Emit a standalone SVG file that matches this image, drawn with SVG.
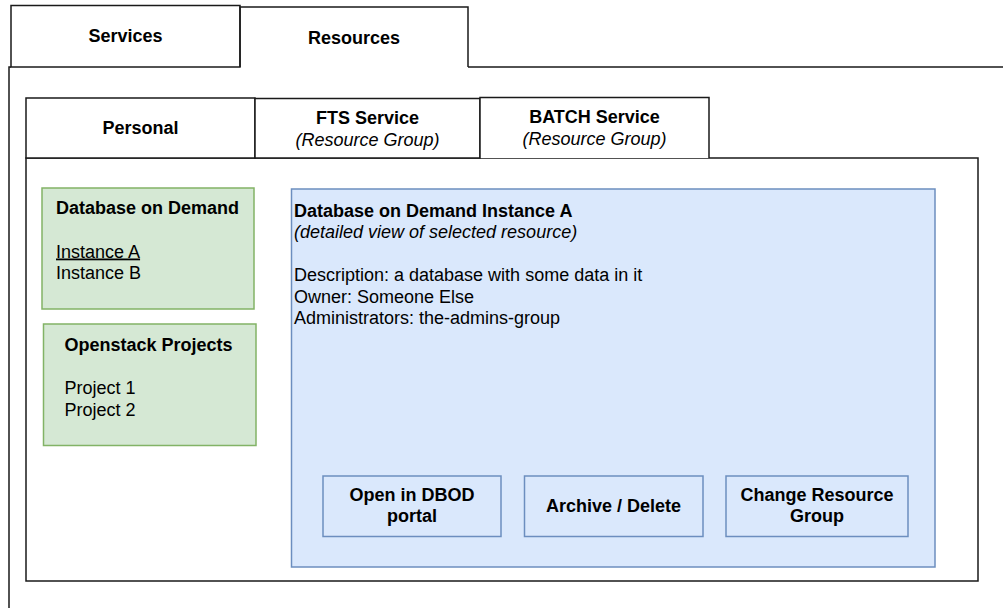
<svg xmlns="http://www.w3.org/2000/svg" width="1003" height="608" viewBox="0 0 1003 608">
  <style>
    text { font-family: "Liberation Sans", Arial, sans-serif; font-size: 18px; fill: #000; }
    .b { font-weight: bold; }
    .i { font-style: italic; }
    .c { text-anchor: middle; }
    .frame { fill: #fff; stroke: #1a1a1a; stroke-width: 1.5; }
    .edge { fill: none; stroke: #1a1a1a; stroke-width: 1.5; }
    .green { fill: #d5e8d4; stroke: #82b366; stroke-width: 1.5; }
    .blue { fill: #dae8fc; stroke: #6c8ebf; stroke-width: 1.5; }
  </style>

  <rect width="1003" height="608" fill="#fff"/>

  <!-- top level tab bar -->
  <g id="outer-container">
    <path class="edge" d="M9,608 V67 H11 M468,67 H1003"/>
  </g>
  <g id="tab-services">
    <rect class="frame" x="11" y="5.5" width="229" height="61.5"/>
    <text class="b c" x="125.5" y="42">Services</text>
  </g>
  <g id="tab-resources">
    <path class="edge" d="M240,67 V7 H468 V67"/>
    <text class="b c" x="354" y="43.5">Resources</text>
  </g>

  <!-- resource group tab bar -->
  <g id="inner-container">
    <path class="frame" d="M709,158 H978 V581 H26 V158 Z"/>
  </g>
  <g id="tab-personal">
    <rect class="frame" x="26" y="98" width="229" height="60"/>
    <text class="b c" x="140.5" y="134">Personal</text>
  </g>
  <g id="tab-fts">
    <rect class="frame" x="255" y="98.5" width="225" height="59.5"/>
    <text class="b c" x="367.5" y="124">FTS Service</text>
    <text class="i c" x="367.5" y="146">(Resource Group)</text>
  </g>
  <g id="tab-batch">
    <path d="M480,158 V97.5 H709 V158 Z" fill="#fff"/>
    <path class="edge" d="M480,158 V97.5 H709 V158"/>
    <text class="b c" x="594.5" y="123">BATCH Service</text>
    <text class="i c" x="594.5" y="145">(Resource Group)</text>
  </g>

  <!-- resource lists -->
  <g id="dbod-list">
    <rect class="green" x="42" y="188" width="212" height="121"/>
    <text class="b" x="56" y="214">Database on Demand</text>
    <text x="56" y="257.5" text-decoration="underline">Instance A</text>
    <text x="56" y="279">Instance B</text>
  </g>
  <g id="openstack-list">
    <rect class="green" x="43.5" y="324" width="212.5" height="121.5"/>
    <text class="b" x="64.5" y="350.5">Openstack Projects</text>
    <text x="64.5" y="394">Project 1</text>
    <text x="64.5" y="415.5">Project 2</text>
  </g>

  <!-- detail panel -->
  <g id="detail-panel">
    <rect class="blue" x="291.5" y="189" width="643.5" height="378"/>
    <text class="b" x="294" y="216.5">Database on Demand Instance A</text>
    <text class="i" x="294" y="238">(detailed view of selected resource)</text>
    <text x="294" y="281">Description: a database with some data in it</text>
    <text x="294" y="302.5">Owner: Someone Else</text>
    <text x="294" y="324">Administrators: the-admins-group</text>
  </g>
  <g id="btn-open-dbod">
    <rect class="blue" x="323" y="476" width="178" height="60.5"/>
    <text class="b c" x="412" y="500.5">Open in DBOD</text>
    <text class="b c" x="412" y="522">portal</text>
  </g>
  <g id="btn-archive">
    <rect class="blue" x="524.5" y="476" width="178.5" height="60.5"/>
    <text class="b c" x="613.5" y="511.5">Archive / Delete</text>
  </g>
  <g id="btn-change-group">
    <rect class="blue" x="726" y="476" width="182" height="60.5"/>
    <text class="b c" x="817" y="500.5">Change Resource</text>
    <text class="b c" x="817" y="522">Group</text>
  </g>
</svg>
